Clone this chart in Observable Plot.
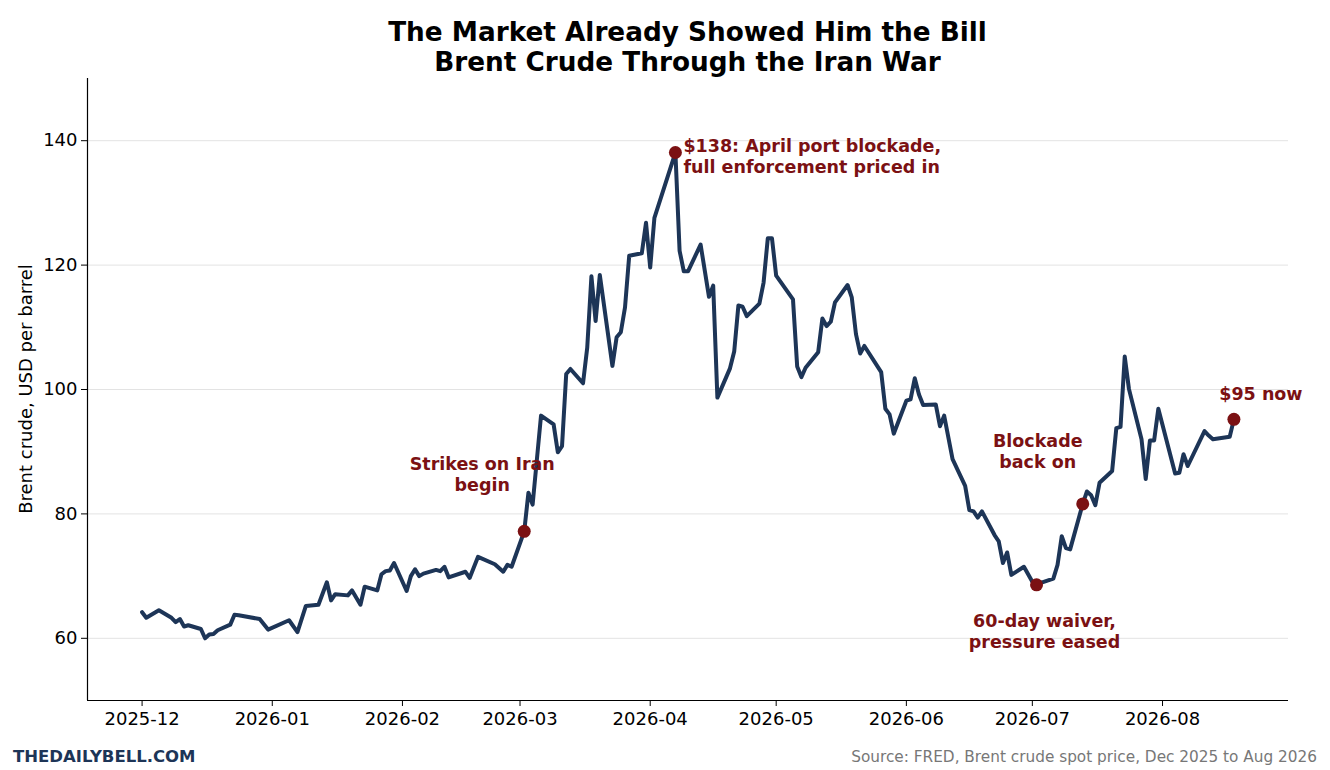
<!DOCTYPE html>
<html><head><meta charset="utf-8">
<script src="https://cdn.jsdelivr.net/npm/d3@7"></script>
<script src="https://cdn.jsdelivr.net/npm/@observablehq/plot@0.6"></script>
<style>
body{margin:0;background:#fff;font-family:"DejaVu Sans",sans-serif;}
#wrap{position:relative;width:1330px;height:770px;overflow:hidden;background:#fff}
#title{position:absolute;left:87px;width:1201px;top:17px;text-align:center;font-weight:bold;font-size:26.3px;line-height:30px;color:#000}
#brand{position:absolute;left:13px;top:747px;font-weight:bold;font-size:16.5px;line-height:20px;color:#1d3557}
#source{position:absolute;right:13px;top:747px;font-size:15.3px;line-height:20px;color:#777}
#chart{position:absolute;left:0;top:0}
</style></head>
<body>
<div id="wrap">
  <div id="chart"></div>
  <div id="title">The Market Already Showed Him the Bill<br>Brent Crude Through the Iran War</div>
  <div id="brand">THEDAILYBELL.COM</div>
  <div id="source">Source: FRED, Brent crude spot price, Dec 2025 to Aug 2026</div>
</div>
<script>
const dates = [
"2025-12-01","2025-12-02","2025-12-05","2025-12-08","2025-12-09","2025-12-10","2025-12-11","2025-12-12",
"2025-12-15","2025-12-16","2025-12-17","2025-12-18","2025-12-19","2025-12-22","2025-12-23","2025-12-24",
"2025-12-29","2025-12-31","2026-01-05","2026-01-07","2026-01-09","2026-01-12","2026-01-14","2026-01-15",
"2026-01-16","2026-01-19","2026-01-20","2026-01-22","2026-01-23","2026-01-26","2026-01-27","2026-01-28",
"2026-01-29","2026-01-30","2026-02-02","2026-02-03","2026-02-04","2026-02-05","2026-02-06","2026-02-09",
"2026-02-10","2026-02-11","2026-02-12","2026-02-16","2026-02-17","2026-02-19","2026-02-23","2026-02-25",
"2026-02-26","2026-02-27","2026-03-02","2026-03-03","2026-03-04","2026-03-06","2026-03-09","2026-03-10",
"2026-03-11","2026-03-12","2026-03-13","2026-03-16","2026-03-17","2026-03-18","2026-03-19","2026-03-20",
"2026-03-23","2026-03-24","2026-03-25","2026-03-26","2026-03-27","2026-03-30","2026-03-31","2026-04-01",
"2026-04-02","2026-04-07","2026-04-08","2026-04-09","2026-04-10","2026-04-13","2026-04-15","2026-04-16",
"2026-04-17","2026-04-20","2026-04-21","2026-04-22","2026-04-23","2026-04-24","2026-04-27","2026-04-28",
"2026-04-29","2026-04-30","2026-05-01","2026-05-05","2026-05-06","2026-05-07","2026-05-08","2026-05-11",
"2026-05-12","2026-05-13","2026-05-14","2026-05-15","2026-05-18","2026-05-19","2026-05-20","2026-05-21",
"2026-05-22","2026-05-26","2026-05-27","2026-05-28","2026-05-29","2026-06-01","2026-06-02","2026-06-03",
"2026-06-04","2026-06-05","2026-06-08","2026-06-09","2026-06-10","2026-06-12","2026-06-15","2026-06-16",
"2026-06-17","2026-06-18","2026-06-19","2026-06-22","2026-06-23","2026-06-24","2026-06-25","2026-06-26",
"2026-06-29","2026-07-01","2026-07-02","2026-07-03","2026-07-06","2026-07-07","2026-07-08","2026-07-09",
"2026-07-10","2026-07-13","2026-07-14","2026-07-15","2026-07-16","2026-07-17","2026-07-20","2026-07-21",
"2026-07-22","2026-07-23","2026-07-24","2026-07-27","2026-07-28","2026-07-29","2026-07-30","2026-07-31",
"2026-08-04","2026-08-05","2026-08-06","2026-08-07","2026-08-11","2026-08-12","2026-08-13","2026-08-17",
"2026-08-18"];
const prices = [
64.2,63.3,64.5,63.3,62.6,63.1,61.9,62.1,
61.5,60.0,60.6,60.7,61.3,62.2,63.8,63.7,
63.1,61.4,62.9,61.0,65.2,65.4,69.0,66.1,
67.1,66.9,67.7,65.4,68.3,67.7,70.3,70.8,
70.9,72.1,67.6,70.0,71.1,70.0,70.4,71.0,
70.8,71.5,69.8,70.7,69.7,73.1,71.9,70.7,
71.8,71.5,77.2,83.4,81.5,95.8,94.4,89.9,
90.9,102.5,103.3,101.0,106.7,118.2,111.0,118.4,
103.8,108.4,109.2,113.2,121.5,121.9,126.8,119.6,
127.6,138.1,122.3,119.0,119.0,123.3,114.9,116.7,
98.7,103.4,106.1,113.5,113.3,111.8,113.8,117.2,
124.3,124.3,118.3,114.5,103.7,102.0,103.5,106.0,
111.4,110.2,110.9,114.0,116.8,114.8,108.9,105.8,
107.0,102.8,96.9,96.0,92.9,98.2,98.4,101.8,
99.2,97.5,97.6,94.1,95.8,88.8,84.5,80.6,
80.4,79.4,80.4,76.6,75.6,72.1,73.8,70.2,
71.5,69.1,68.6,68.9,69.6,71.8,76.4,74.5,
74.3,81.6,83.6,83.0,81.4,85.0,86.9,93.8,
94.0,105.3,100.1,92.0,85.6,91.8,91.8,96.9,
86.5,86.6,89.6,87.7,93.3,92.6,92.0,92.4,
95.2];

const eventDates = ["2026-03-02","2026-04-07","2026-07-02","2026-07-13","2026-08-18"];
const eventPrices = [77.2,138.1,68.6,81.6,95.2];
const eventLabels = [
  "Strikes on Iran\nbegin",
  "$138: April port blockade,\nfull enforcement priced in",
  "60-day waiver,\npressure eased",
  "Blockade\nback on",
  "$95 now"
];
const yTicks = [60,80,100,120,140];

const series = dates.map((d,i)=>({date:new Date(d), price:prices[i]}));
const events = eventDates.map((d,i)=>({date:new Date(d), price:eventPrices[i], label:eventLabels[i]}));

// 5% padding on the date range, like the original's default margins
const ext = d3.extent(series, d=>d.date);
const pad = (ext[1]-ext[0])*0.05;
const xDomain = [new Date(+ext[0]-pad), new Date(+ext[1]+pad)];
const monthTicks = d3.utcMonth.range(new Date("2025-12-01"), new Date("2026-08-02"));

const lblStyle = {fill:"#7b1113", fontWeight:"bold", fontSize:17.5, lineHeight:1.2, fontFamily:"DejaVu Sans"};
const ev = (i, opts) => Plot.text([events[i]], {x:"date", y:"price", text:"label", lineAnchor:"middle", ...lblStyle, ...opts});

const chart = Plot.plot({
  width:1330, height:770,
  marginTop:78, marginBottom:70, marginLeft:87, marginRight:42,
  style:{fontFamily:"DejaVu Sans", fontSize:"18px", color:"#000", background:"transparent"},
  x:{type:"utc", domain:xDomain, ticks:monthTicks, tickFormat:d3.utcFormat("%Y-%m"), label:null, tickSize:6, tickPadding:5},
  y:{domain:[50,150], ticks:yTicks, label:null, tickSize:6, tickPadding:5},
  marks:[
    Plot.gridY(yTicks, {stroke:"#e3e3e3", strokeOpacity:1, strokeWidth:1}),
    Plot.axisX({ticks:monthTicks, tickFormat:d3.utcFormat("%Y-%m"), tickSize:6, tickPadding:6, fontSize:18, label:null}),
    Plot.axisY({ticks:yTicks, tickSize:6, tickPadding:4, fontSize:18, label:null}),
    Plot.ruleY([50], {stroke:"#000", strokeWidth:1.2}),
    Plot.ruleX([xDomain[0]], {stroke:"#000", strokeWidth:1.2}),
    Plot.line(series, {x:"date", y:"price", stroke:"#1d3557", strokeWidth:4, strokeLinejoin:"round", strokeLinecap:"round"}),
    Plot.dot(events, {x:"date", y:"price", r:6.5, fill:"#7b1113", stroke:"none"}),
    ev(0, {textAnchor:"middle", dx:-42, dy:-58}),
    ev(1, {textAnchor:"start", dx:8, dy:3}),
    ev(2, {textAnchor:"middle", dx:8, dy:46}),
    ev(3, {textAnchor:"middle", dx:-45, dy:-53}),
    ev(4, {textAnchor:"middle", dx:27, dy:-26})
  ]
});
// y axis label
const svg = d3.select(chart);
svg.append("text")
  .attr("transform","translate(27,389) rotate(-90)")
  .attr("text-anchor","middle").attr("dominant-baseline","middle")
  .attr("font-size",18).attr("fill","#000").attr("font-family","DejaVu Sans")
  .text("Brent crude, USD per barrel");
document.getElementById("chart").appendChild(chart);
</script>
</body></html>
